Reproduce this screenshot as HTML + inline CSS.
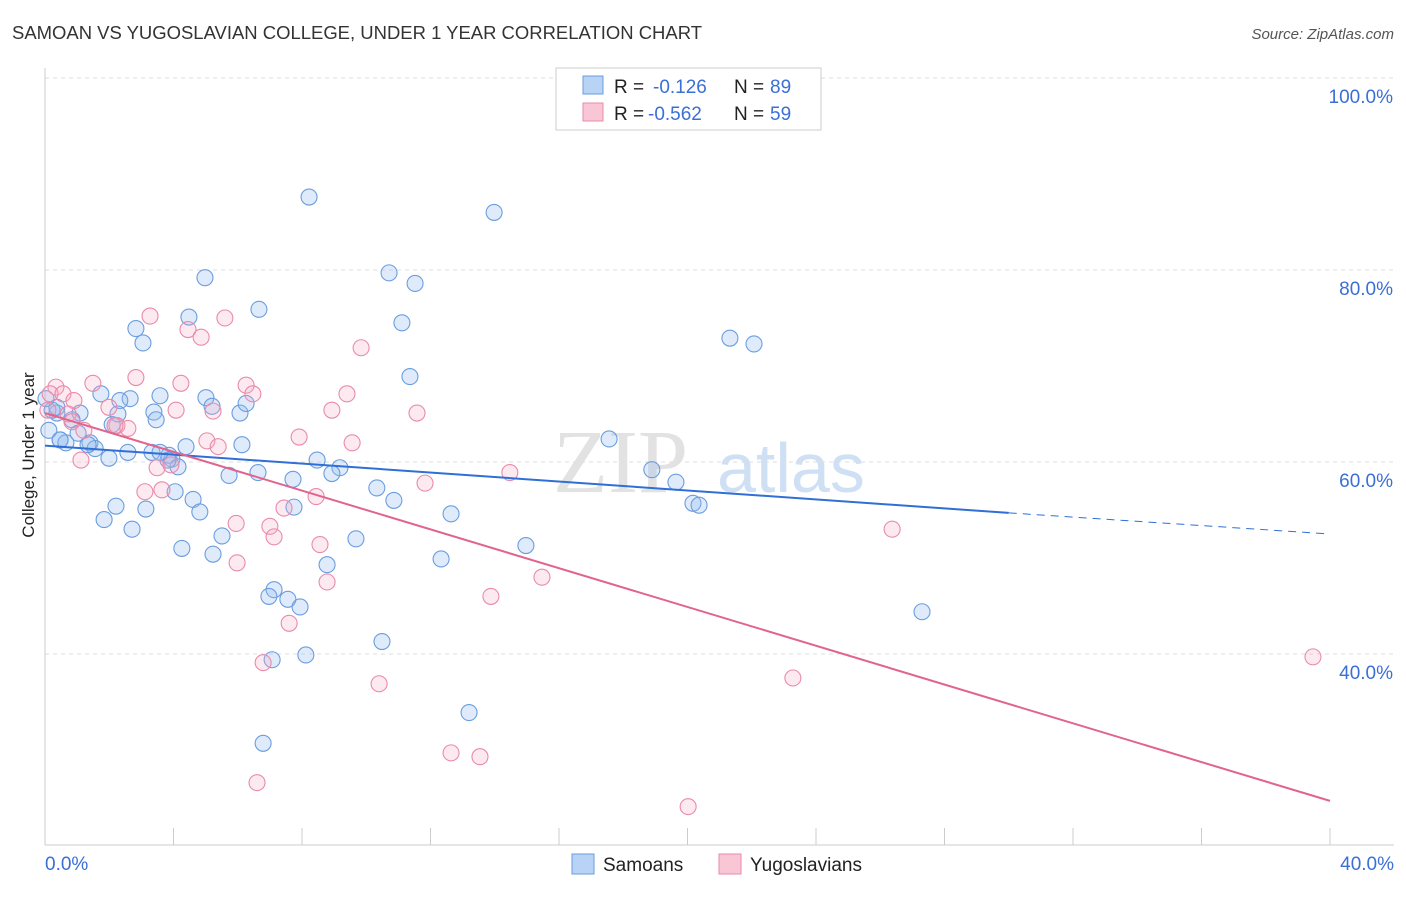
<!DOCTYPE html>
<html><head><meta charset="utf-8"><style>
body{margin:0;background:#fff;font-family:"Liberation Sans",sans-serif}
</style></head><body>
<svg id="c" width="1406" height="892" xmlns="http://www.w3.org/2000/svg">
<text x="12" y="39" font-size="18" fill="#333" textLength="690" lengthAdjust="spacingAndGlyphs">SAMOAN VS YUGOSLAVIAN COLLEGE, UNDER 1 YEAR CORRELATION CHART</text>
<text x="1394" y="39" font-size="15" fill="#555" font-style="italic" text-anchor="end">Source: ZipAtlas.com</text>
<text x="34" y="455" font-size="17" fill="#222" text-anchor="middle" transform="rotate(-90 34 455)">College, Under 1 year</text>
<text x="553" y="492" font-size="90" fill="#e2e2e2" font-family="Liberation Serif">ZIP</text>
<text x="717" y="492" font-size="70" fill="#cfe0f5">atlas</text>
<g id="axes"></g><g id="pts"></g><g id="trend"></g>
<g>
<rect x="556" y="68" width="265" height="62" fill="#fff" stroke="#ccc"/>
<rect x="583" y="76" width="20" height="18" fill="#b8d3f5" stroke="#6a9de0"/>
<rect x="583" y="103" width="20" height="18" fill="#f9c6d6" stroke="#ea8aab"/>
<text x="614" y="93" font-size="19" fill="#222">R =</text><text x="653" y="93" font-size="19" fill="#3b6fd6">-0.126</text>
<text x="734" y="93" font-size="19" fill="#222">N =</text><text x="770" y="93" font-size="19" fill="#3b6fd6">89</text>
<text x="614" y="120" font-size="19" fill="#222">R =</text><text x="648" y="120" font-size="19" fill="#3b6fd6">-0.562</text>
<text x="734" y="120" font-size="19" fill="#222">N =</text><text x="770" y="120" font-size="19" fill="#3b6fd6">59</text>
</g>
<g>
<rect x="572" y="854" width="22" height="20" fill="#b8d3f5" stroke="#6a9de0"/>
<text x="603" y="871" font-size="19" fill="#222">Samoans</text>
<rect x="719" y="854" width="22" height="20" fill="#f9c6d6" stroke="#ea8aab"/>
<text x="750" y="871" font-size="19" fill="#222">Yugoslavians</text>
</g>
</svg>
<script>
const xTicks=[0,40];
const yTicks=[40,60,80,100];
const bluePx=[[309,197],[494,212],[205,278],[389,273],[415,283],[259,309],[402,323],[136,329],[143,343],[189,317],[730,338],[754,344],[410,377],[206,398],[160,396],[130,399],[120,401],[101,394],[154,412],[156,420],[212,406],[240,413],[246,403],[80,413],[72,420],[57,413],[52,410],[49,430],[60,440],[66,443],[78,433],[90,443],[95,449],[88,445],[112,425],[118,414],[128,452],[109,458],[152,452],[169,455],[172,459],[178,467],[186,447],[242,445],[229,475],[258,473],[293,479],[317,460],[340,468],[332,474],[377,488],[394,500],[451,514],[609,439],[652,470],[676,482],[693,503],[699,505],[104,520],[116,506],[132,529],[146,509],[175,492],[193,499],[200,512],[222,536],[213,554],[182,548],[294,507],[356,539],[327,565],[441,559],[526,546],[274,590],[269,596],[288,599],[300,607],[382,642],[306,655],[272,660],[469,713],[263,743],[922,612],[57,407],[46,399],[168,460],[160,452],[60,440]];
const pinkPx=[[56,387],[50,394],[63,394],[74,401],[48,410],[93,383],[109,407],[68,414],[72,422],[84,430],[117,426],[128,428],[136,378],[150,316],[181,383],[176,410],[188,330],[201,337],[225,318],[213,411],[207,441],[218,447],[246,385],[253,394],[157,468],[171,465],[145,492],[162,490],[81,460],[236,523],[237,563],[270,526],[274,537],[263,663],[257,783],[284,508],[299,437],[316,497],[320,545],[327,582],[289,623],[332,410],[347,394],[352,443],[361,348],[417,413],[425,483],[379,684],[451,753],[480,757],[491,596],[510,473],[542,577],[688,807],[793,678],[892,529],[1313,657],[115,426]];
const toData=p=>[+((p[0]-45)/32.125).toFixed(2),+(100-(p[1]-78)/9.6).toFixed(1)];
const samoanX=bluePx.map(p=>toData(p)[0]), samoanY=bluePx.map(p=>toData(p)[1]);
const yugoX=pinkPx.map(p=>toData(p)[0]), yugoY=pinkPx.map(p=>toData(p)[1]);
const blueTrend=[[0,61.7],[30,54.7],[40,52.5]];
const pinkTrend=[[0,65.1],[40,24.7]];
const X=v=>45+v*32.125, Y=v=>78+(100-v)*9.6;
const NS="http://www.w3.org/2000/svg";
function mk(t,a,p){const e=document.createElementNS(NS,t);for(const k in a)e.setAttribute(k,a[k]);p.appendChild(e);return e;}
const ax=document.getElementById('axes');
yTicks.forEach(v=>{
 const l=mk('line',{x1:45,x2:1394,y1:Y(v),y2:Y(v),stroke:'#ddd','stroke-dasharray':'4,4'},ax);
 
 
 const t=mk('text',{x:1393,y:Y(v)+25,'font-size':19,fill:'#3b6fd6','text-anchor':'end'},ax);t.textContent=v.toFixed(1)+'%';
 
 
});
mk('line',{x1:45,x2:45,y1:68,y2:845,stroke:'#ccc'},ax);
mk('line',{x1:45,x2:1394,y1:845,y2:845,stroke:'#ccc'},ax);
for(let i=1;i<=10;i++){mk('line',{x1:X(i*4),x2:X(i*4),y1:828,y2:845,stroke:'#ccc'},ax);}
xTicks.forEach(v=>{const t=mk('text',{x:v?1394:45,y:870,'font-size':19,fill:'#3b6fd6','text-anchor':v?'end':'start'},ax);t.textContent=v.toFixed(1)+'%';
 
 });
const pg=document.getElementById('pts');
samoanX.forEach((x,i)=>{const c=mk('circle',{cx:X(x),cy:Y(samoanY[i]),r:8,fill:'rgba(150,190,240,0.3)',stroke:'#6a9de0','stroke-width':1.1},pg);
 
 });
yugoX.forEach((x,i)=>{const c=mk('circle',{cx:X(x),cy:Y(yugoY[i]),r:8,fill:'rgba(245,170,195,0.25)',stroke:'#ea8aab','stroke-width':1.1},pg);
 
 });
const tg=document.getElementById('trend');
let l=mk('line',{x1:X(blueTrend[0][0]),y1:Y(blueTrend[0][1]),x2:X(blueTrend[1][0]),y2:Y(blueTrend[1][1]),stroke:'#2f6fd6','stroke-width':2},tg);


l=mk('line',{x1:X(blueTrend[1][0]),y1:Y(blueTrend[1][1]),x2:X(blueTrend[2][0]),y2:Y(blueTrend[2][1]),stroke:'#2f6fd6','stroke-width':1,'stroke-dasharray':'8,6'},tg);


l=mk('line',{x1:X(pinkTrend[0][0]),y1:Y(pinkTrend[0][1]),x2:X(pinkTrend[1][0]),y2:Y(pinkTrend[1][1]),stroke:'#e0648e','stroke-width':2},tg);


</script>
</body></html>
